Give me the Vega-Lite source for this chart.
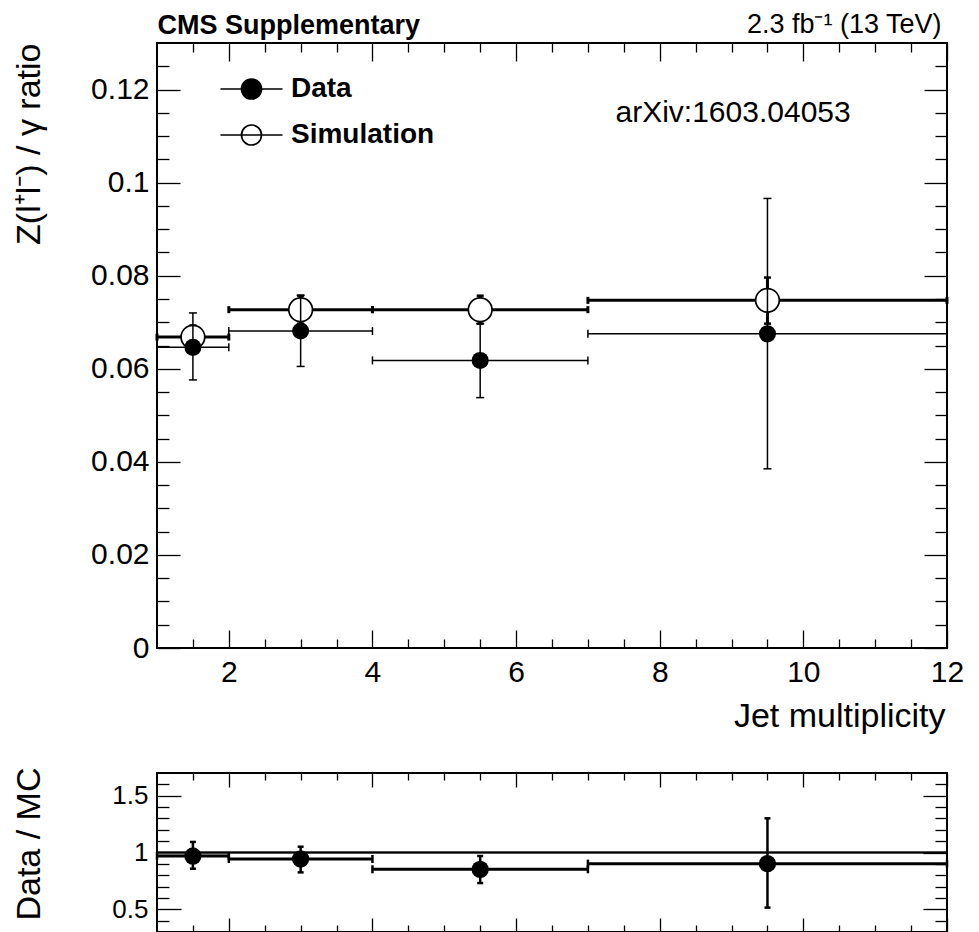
{
  "$schema": "https://vega.github.io/schema/vega-lite/v6.json",
  "padding": {"left": 11, "top": 9, "right": 5, "bottom": 0},
  "background": "white",
  "spacing": 31,
  "datasets": {
    "upper": [
      {"series": "Data", "x": 1.5, "xlo": 1, "xhi": 2, "y": 0.0646, "ylo": 0.0576, "yhi": 0.0720},
      {"series": "Data", "x": 3, "xlo": 2, "xhi": 4, "y": 0.0681, "ylo": 0.0605, "yhi": 0.0758},
      {"series": "Data", "x": 5.5, "xlo": 4, "xhi": 7, "y": 0.0618, "ylo": 0.0538, "yhi": 0.0697},
      {"series": "Data", "x": 9.5, "xlo": 7, "xhi": 12, "y": 0.0675, "ylo": 0.0385, "yhi": 0.0966},
      {"series": "Simulation", "x": 1.5, "xlo": 1, "xhi": 2, "y": 0.0668, "ylo": 0.0643, "yhi": 0.0693},
      {"series": "Simulation", "x": 3, "xlo": 2, "xhi": 4, "y": 0.0727, "ylo": 0.0697, "yhi": 0.0757},
      {"series": "Simulation", "x": 5.5, "xlo": 4, "xhi": 7, "y": 0.0727, "ylo": 0.0697, "yhi": 0.0757},
      {"series": "Simulation", "x": 9.5, "xlo": 7, "xhi": 12, "y": 0.0747, "ylo": 0.0697, "yhi": 0.0796}
    ],
    "lower": [
      {"x": 1.5, "xlo": 1, "xhi": 2, "r": 0.969, "rlo": 0.857, "rhi": 1.093, "mclo": 0.962, "mchi": 0.996},
      {"x": 3, "xlo": 2, "xhi": 4, "r": 0.943, "rlo": 0.825, "rhi": 1.051, "mclo": null, "mchi": null},
      {"x": 5.5, "xlo": 4, "xhi": 7, "r": 0.852, "rlo": 0.731, "rhi": 0.969, "mclo": null, "mchi": null},
      {"x": 9.5, "xlo": 7, "xhi": 12, "r": 0.902, "rlo": 0.515, "rhi": 1.301, "mclo": null, "mchi": null}
    ]
  },
  "resolve": {"scale": {"x": "independent", "y": "independent", "fill": "independent"}},
  "vconcat": [
    {
      "width": 790,
      "height": 605,
      "data": {"name": "upper"},
      "resolve": {"axis": {"x": "independent", "y": "independent"}},
      "layer": [
        {
          "transform": [{"filter": "datum.series == 'Simulation'"}],
          "mark": {"type": "rule", "strokeWidth": 3, "color": "black"},
          "encoding": {
            "x": {"field": "xlo", "type": "quantitative", "scale": {"domain": [1, 12], "nice": false, "zero": false},
              "axis": {"orient": "bottom", "values": [1.5,2,2.5,3,3.5,4,4.5,5,5.5,6,6.5,7,7.5,8,8.5,9,9.5,10,10.5,11,11.5,12],
                "tickSize": {"condition": {"test": "datum.value % 2 == 0", "value": -18}, "value": -9},
                "labelExpr": "datum.value % 2 == 0 ? '' + datum.value : ''",
                "labelFontSize": 30, "labelPadding": 27,
                "title": "Jet multiplicity", "titleFontSize": 34, "titleX": 788, "titleY": 78.7,
                "titleAlign": "right", "titleBaseline": "alphabetic", "titleAngle": 0, "titleFontWeight": "normal"}},
            "x2": {"field": "xhi"},
            "y": {"field": "y", "type": "quantitative", "scale": {"domain": [0, 0.13], "nice": false, "zero": false},
              "axis": {"orient": "left", "values": [0,0.005,0.01,0.015,0.02,0.025,0.03,0.035,0.04,0.045,0.05,0.055,0.06,0.065,0.07,0.075,0.08,0.085,0.09,0.095,0.1,0.105,0.11,0.115,0.12,0.125],
                "tickSize": {"condition": {"test": "abs(datum.value/0.02 - round(datum.value/0.02)) < 0.000001", "value": -23}, "value": -12},
                "labelExpr": "abs(datum.value/0.02 - round(datum.value/0.02)) < 0.000001 ? datum.label : ''", "format": ".2~f",
                "labelFontSize": 30, "labelPadding": 31,
                "title": "Z(l⁺l⁻) / γ ratio", "titleFontSize": 34, "titleX": -118, "titleY": 0,
                "titleAlign": "right", "titleBaseline": "alphabetic", "titleAngle": 270, "titleFontWeight": "normal"}}
          }
        },
        {
          "transform": [{"filter": "datum.series == 'Simulation'"}],
          "mark": {"type": "tick", "orient": "vertical", "size": 7, "thickness": 3, "color": "black", "opacity": 1},
          "encoding": {
            "x": {"field": "xlo", "type": "quantitative", "scale": {"domain": [1, 12], "nice": false, "zero": false},
              "axis": {"orient": "top", "values": [1.5,2,2.5,3,3.5,4,4.5,5,5.5,6,6.5,7,7.5,8,8.5,9,9.5,10,10.5,11,11.5,12],
                "tickSize": {"condition": {"test": "datum.value % 2 == 0", "value": -18}, "value": -9},
                "labels": false,
                "title": "CMS Supplementary", "titleFontSize": 27, "titleFontWeight": "bold", "titleX": 0, "titleY": -9.4,
                "titleAlign": "left", "titleBaseline": "alphabetic", "titleAngle": 0}},
            "y": {"field": "y", "type": "quantitative", "scale": {"domain": [0, 0.13], "nice": false, "zero": false},
              "axis": {"orient": "right", "values": [0,0.005,0.01,0.015,0.02,0.025,0.03,0.035,0.04,0.045,0.05,0.055,0.06,0.065,0.07,0.075,0.08,0.085,0.09,0.095,0.1,0.105,0.11,0.115,0.12,0.125],
                "tickSize": {"condition": {"test": "abs(datum.value/0.02 - round(datum.value/0.02)) < 0.000001", "value": -23}, "value": -12},
                "labels": false,
                "title": "arXiv:1603.04053", "titleFontSize": 30, "titleFontWeight": "normal", "titleX": -332, "titleY": 78,
                "titleAlign": "left", "titleBaseline": "alphabetic", "titleAngle": 0}}
          }
        },
        {
          "transform": [{"filter": "datum.series == 'Simulation'"}],
          "mark": {"type": "tick", "orient": "vertical", "size": 7, "thickness": 3, "color": "black", "opacity": 1},
          "encoding": {
            "x": {"field": "xhi", "type": "quantitative", "scale": {"domain": [1, 12], "nice": false, "zero": false},
              "axis": {"orient": "top", "ticks": false, "labels": false, "domain": false,
                "title": "2.3 fb⁻¹ (13 TeV)", "titleFontSize": 27, "titleFontWeight": "normal", "titleX": 784, "titleY": -11,
                "titleAlign": "right", "titleBaseline": "alphabetic", "titleAngle": 0}},
            "y": {"field": "y", "type": "quantitative", "scale": {"domain": [0, 0.13], "nice": false, "zero": false}, "axis": null}
          }
        },
        {
          "transform": [{"filter": "datum.series == 'Simulation'"}],
          "mark": {"type": "rule", "strokeWidth": 3, "color": "black"},
          "encoding": {
            "x": {"field": "x", "type": "quantitative", "scale": {"domain": [1, 12], "nice": false, "zero": false}, "axis": null},
            "y": {"field": "ylo", "type": "quantitative", "scale": {"domain": [0, 0.13], "nice": false, "zero": false}, "axis": null},
            "y2": {"field": "yhi"}
          }
        },
        {
          "transform": [{"filter": "datum.series == 'Simulation'"}],
          "mark": {"type": "tick", "orient": "horizontal", "size": 7, "thickness": 2.5, "color": "black", "opacity": 1},
          "encoding": {
            "x": {"field": "x", "type": "quantitative", "scale": {"domain": [1, 12], "nice": false, "zero": false}, "axis": null},
            "y": {"field": "ylo", "type": "quantitative", "scale": {"domain": [0, 0.13], "nice": false, "zero": false}, "axis": null}
          }
        },
        {
          "transform": [{"filter": "datum.series == 'Simulation'"}],
          "mark": {"type": "tick", "orient": "horizontal", "size": 7, "thickness": 2.5, "color": "black", "opacity": 1},
          "encoding": {
            "x": {"field": "x", "type": "quantitative", "scale": {"domain": [1, 12], "nice": false, "zero": false}, "axis": null},
            "y": {"field": "yhi", "type": "quantitative", "scale": {"domain": [0, 0.13], "nice": false, "zero": false}, "axis": null}
          }
        },
        {
          "transform": [{"filter": "datum.series == 'Simulation'"}],
          "mark": {"type": "point", "shape": "circle", "filled": true, "size": 560, "stroke": "black", "strokeWidth": 1.7, "opacity": 1},
          "encoding": {
            "x": {"field": "x", "type": "quantitative", "scale": {"domain": [1, 12], "nice": false, "zero": false}, "axis": null},
            "y": {"field": "y", "type": "quantitative", "scale": {"domain": [0, 0.13], "nice": false, "zero": false}, "axis": null},
            "fill": {"field": "series", "type": "nominal", "scale": {"domain": ["Data", "Simulation"], "range": ["black", "white"]},
              "legend": {"orient": "none", "legendX": 80.5, "legendY": 32, "title": null, "padding": 0,
                "symbolType": "M -3.1 0 L 3.1 0 M 1 0 A 1 1 0 1 1 -1 0 A 1 1 0 1 1 1 0 Z",
                "symbolSize": 400, "symbolStrokeColor": "black", "symbolStrokeWidth": 1.7, "symbolOpacity": 1,
                "labelFont": "Liberation Sans", "labelFontSize": 28, "labelFontWeight": "bold", "labelColor": "black",
                "labelOffset": 25.5, "rowPadding": 18, "labelLimit": 400,
                "encode": {"symbols": {"update": {"stroke": {"value": "black"}, "strokeWidth": {"value": 1.7}, "opacity": {"value": 1}}}}}}
          }
        },
        {
          "transform": [{"filter": "datum.series == 'Data'"}],
          "mark": {"type": "rule", "strokeWidth": 1.5, "color": "black"},
          "encoding": {
            "x": {"field": "xlo", "type": "quantitative", "scale": {"domain": [1, 12], "nice": false, "zero": false}, "axis": null},
            "x2": {"field": "xhi"},
            "y": {"field": "y", "type": "quantitative", "scale": {"domain": [0, 0.13], "nice": false, "zero": false}, "axis": null}
          }
        },
        {
          "transform": [{"filter": "datum.series == 'Data'"}],
          "mark": {"type": "tick", "orient": "vertical", "size": 8, "thickness": 1.5, "color": "black", "opacity": 1},
          "encoding": {
            "x": {"field": "xlo", "type": "quantitative", "scale": {"domain": [1, 12], "nice": false, "zero": false}, "axis": null},
            "y": {"field": "y", "type": "quantitative", "scale": {"domain": [0, 0.13], "nice": false, "zero": false}, "axis": null}
          }
        },
        {
          "transform": [{"filter": "datum.series == 'Data'"}],
          "mark": {"type": "tick", "orient": "vertical", "size": 8, "thickness": 1.5, "color": "black", "opacity": 1},
          "encoding": {
            "x": {"field": "xhi", "type": "quantitative", "scale": {"domain": [1, 12], "nice": false, "zero": false}, "axis": null},
            "y": {"field": "y", "type": "quantitative", "scale": {"domain": [0, 0.13], "nice": false, "zero": false}, "axis": null}
          }
        },
        {
          "transform": [{"filter": "datum.series == 'Data'"}],
          "mark": {"type": "rule", "strokeWidth": 1.5, "color": "black"},
          "encoding": {
            "x": {"field": "x", "type": "quantitative", "scale": {"domain": [1, 12], "nice": false, "zero": false}, "axis": null},
            "y": {"field": "ylo", "type": "quantitative", "scale": {"domain": [0, 0.13], "nice": false, "zero": false}, "axis": null},
            "y2": {"field": "yhi"}
          }
        },
        {
          "transform": [{"filter": "datum.series == 'Data'"}],
          "mark": {"type": "tick", "orient": "horizontal", "size": 8, "thickness": 1.5, "color": "black", "opacity": 1},
          "encoding": {
            "x": {"field": "x", "type": "quantitative", "scale": {"domain": [1, 12], "nice": false, "zero": false}, "axis": null},
            "y": {"field": "ylo", "type": "quantitative", "scale": {"domain": [0, 0.13], "nice": false, "zero": false}, "axis": null}
          }
        },
        {
          "transform": [{"filter": "datum.series == 'Data'"}],
          "mark": {"type": "tick", "orient": "horizontal", "size": 8, "thickness": 1.5, "color": "black", "opacity": 1},
          "encoding": {
            "x": {"field": "x", "type": "quantitative", "scale": {"domain": [1, 12], "nice": false, "zero": false}, "axis": null},
            "y": {"field": "yhi", "type": "quantitative", "scale": {"domain": [0, 0.13], "nice": false, "zero": false}, "axis": null}
          }
        },
        {
          "transform": [{"filter": "datum.series == 'Data'"}],
          "mark": {"type": "point", "shape": "circle", "filled": true, "size": 290, "opacity": 1},
          "encoding": {
            "x": {"field": "x", "type": "quantitative", "scale": {"domain": [1, 12], "nice": false, "zero": false}, "axis": null},
            "y": {"field": "y", "type": "quantitative", "scale": {"domain": [0, 0.13], "nice": false, "zero": false}, "axis": null},
            "fill": {"field": "series", "type": "nominal", "scale": {"domain": ["Data", "Simulation"], "range": ["black", "white"]},
              "legend": {"orient": "none", "legendX": 80.5, "legendY": 32, "title": null, "padding": 0,
                "symbolType": "M -3.1 0 L 3.1 0 M 1 0 A 1 1 0 1 1 -1 0 A 1 1 0 1 1 1 0 Z",
                "symbolSize": 400, "symbolStrokeColor": "black", "symbolStrokeWidth": 1.7, "symbolOpacity": 1,
                "labelFont": "Liberation Sans", "labelFontSize": 28, "labelFontWeight": "bold", "labelColor": "black",
                "labelOffset": 25.5, "rowPadding": 18, "labelLimit": 400,
                "encode": {"symbols": {"update": {"stroke": {"value": "black"}, "strokeWidth": {"value": 1.7}, "opacity": {"value": 1}}}}}}
          }
        }
      ]
    },
    {
      "width": 790,
      "height": 159,
      "data": {"name": "lower"},
      "resolve": {"axis": {"x": "independent", "y": "independent"}},
      "layer": [
        {
          "transform": [{"filter": "datum.mclo != null"}],
          "mark": {"type": "rect", "color": "#c4c4c4"},
          "encoding": {
            "x": {"field": "xlo", "type": "quantitative", "scale": {"domain": [1, 12], "nice": false, "zero": false}, "axis": null},
            "x2": {"field": "xhi"},
            "y": {"field": "mclo", "type": "quantitative", "scale": {"domain": [0.3, 1.7], "nice": false, "zero": false}, "axis": null},
            "y2": {"field": "mchi"}
          }
        },
        {
          "mark": {"type": "rule", "strokeWidth": 1.3, "color": "black"},
          "encoding": {
            "y": {"datum": 1, "type": "quantitative", "scale": {"domain": [0.3, 1.7], "nice": false, "zero": false}, "axis": null}
          }
        },
        {
          "mark": {"type": "rule", "strokeWidth": 3, "color": "black"},
          "encoding": {
            "x": {"field": "xlo", "type": "quantitative", "scale": {"domain": [1, 12], "nice": false, "zero": false},
              "axis": {"orient": "bottom", "values": [1.5,2,2.5,3,3.5,4,4.5,5,5.5,6,6.5,7,7.5,8,8.5,9,9.5,10,10.5,11,11.5,12],
                "tickSize": {"condition": {"test": "datum.value % 2 == 0", "value": -14}, "value": -7},
                "labels": false, "title": null}},
            "x2": {"field": "xhi"},
            "y": {"field": "r", "type": "quantitative", "scale": {"domain": [0.3, 1.7], "nice": false, "zero": false},
              "axis": {"orient": "left", "values": [0.4,0.5,0.6,0.7,0.8,0.9,1,1.1,1.2,1.3,1.4,1.5,1.6],
                "tickSize": {"condition": {"test": "datum.value*2 == round(datum.value*2)", "value": -24}, "value": -12},
                "labelExpr": "datum.value*2 == round(datum.value*2) ? datum.label : ''", "format": ".1~f",
                "labelFontSize": 26, "labelPadding": 33,
                "title": "Data / MC", "titleFontSize": 34, "titleX": -118, "titleY": -6,
                "titleAlign": "right", "titleBaseline": "alphabetic", "titleAngle": 270, "titleFontWeight": "normal"}}
          }
        },
        {
          "mark": {"type": "tick", "orient": "vertical", "size": 8, "thickness": 2.5, "color": "black", "opacity": 1},
          "encoding": {
            "x": {"field": "xlo", "type": "quantitative", "scale": {"domain": [1, 12], "nice": false, "zero": false},
              "axis": {"orient": "top", "values": [1.5,2,2.5,3,3.5,4,4.5,5,5.5,6,6.5,7,7.5,8,8.5,9,9.5,10,10.5,11,11.5,12],
                "tickSize": {"condition": {"test": "datum.value % 2 == 0", "value": -14}, "value": -7},
                "labels": false, "title": null}},
            "y": {"field": "r", "type": "quantitative", "scale": {"domain": [0.3, 1.7], "nice": false, "zero": false},
              "axis": {"orient": "right", "values": [0.4,0.5,0.6,0.7,0.8,0.9,1,1.1,1.2,1.3,1.4,1.5,1.6],
                "tickSize": {"condition": {"test": "datum.value*2 == round(datum.value*2)", "value": -24}, "value": -12},
                "labels": false, "title": null}}
          }
        },
        {
          "mark": {"type": "tick", "orient": "vertical", "size": 8, "thickness": 2.5, "color": "black", "opacity": 1},
          "encoding": {
            "x": {"field": "xhi", "type": "quantitative", "scale": {"domain": [1, 12], "nice": false, "zero": false}, "axis": null},
            "y": {"field": "r", "type": "quantitative", "scale": {"domain": [0.3, 1.7], "nice": false, "zero": false}, "axis": null}
          }
        },
        {
          "mark": {"type": "rule", "strokeWidth": 2.5, "color": "black"},
          "encoding": {
            "x": {"field": "x", "type": "quantitative", "scale": {"domain": [1, 12], "nice": false, "zero": false}, "axis": null},
            "y": {"field": "rlo", "type": "quantitative", "scale": {"domain": [0.3, 1.7], "nice": false, "zero": false}, "axis": null},
            "y2": {"field": "rhi"}
          }
        },
        {
          "mark": {"type": "tick", "orient": "horizontal", "size": 6, "thickness": 2.5, "color": "black", "opacity": 1},
          "encoding": {
            "x": {"field": "x", "type": "quantitative", "scale": {"domain": [1, 12], "nice": false, "zero": false}, "axis": null},
            "y": {"field": "rlo", "type": "quantitative", "scale": {"domain": [0.3, 1.7], "nice": false, "zero": false}, "axis": null}
          }
        },
        {
          "mark": {"type": "tick", "orient": "horizontal", "size": 6, "thickness": 2.5, "color": "black", "opacity": 1},
          "encoding": {
            "x": {"field": "x", "type": "quantitative", "scale": {"domain": [1, 12], "nice": false, "zero": false}, "axis": null},
            "y": {"field": "rhi", "type": "quantitative", "scale": {"domain": [0.3, 1.7], "nice": false, "zero": false}, "axis": null}
          }
        },
        {
          "mark": {"type": "point", "shape": "circle", "filled": true, "size": 300, "color": "black", "opacity": 1},
          "encoding": {
            "x": {"field": "x", "type": "quantitative", "scale": {"domain": [1, 12], "nice": false, "zero": false}, "axis": null},
            "y": {"field": "r", "type": "quantitative", "scale": {"domain": [0.3, 1.7], "nice": false, "zero": false}, "axis": null}
          }
        }
      ]
    }
  ],
  "config": {
    "font": "Liberation Sans",
    "view": {"stroke": "black", "strokeWidth": 2},
    "axis": {
      "domain": false, "grid": false, "tickColor": "black", "tickWidth": 1.3,
      "labelColor": "black", "titleColor": "black", "labelFont": "Liberation Sans", "titleFont": "Liberation Sans",
      "labelOverlap": false, "labelFlush": false, "titleFontWeight": "normal"
    }
  }
}
